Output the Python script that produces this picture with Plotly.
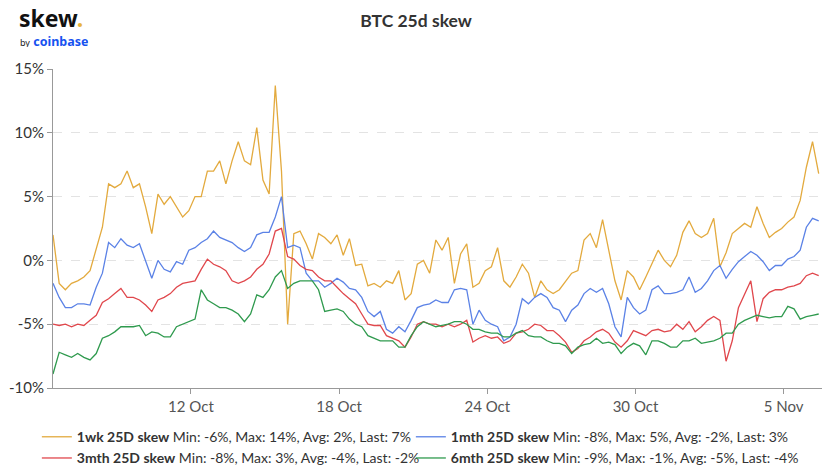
import pandas as pd
import plotly.graph_objects as go

start = "2021-10-06 10:00"
freq = "6h"

wk1 = [2.0, -1.8, -2.3, -1.8, -1.6, -1.3, -0.8, 1.0, 2.6, 6.0,
       5.7, 6.0, 7.0, 5.7, 6.0, 4.2, 2.1, 5.2, 4.4, 5.0,
       4.2, 3.4, 3.9, 5.0, 5.0, 7.0, 7.0, 7.8, 6.0, 7.8,
       9.3, 7.8, 7.5, 10.4, 6.3, 5.2, 13.7, 7.0, -5.0, 2.1,
       2.3, 1.3, 0.1, 2.1, 1.8, 1.3, 2.0, 0.4, 1.7, -0.4,
       -0.3, -2.0, -1.8, -2.1, -1.6, -1.8, -0.8, -3.1, -2.6, -0.3,
       0.0, -1.0, 1.6, 0.8, 1.8, -1.8, 0.5, 1.3, -2.1, -1.8,
       -0.8, -0.5, 1.0, -1.6, -2.1, -1.3, -0.3, -1.0, -2.9, -1.6,
       -2.3, -2.6, -2.3, -1.6, -1.0, -0.8, 1.6, 2.1, 1.0, 3.2,
       0.8, -1.6, -3.1, -0.8, -1.3, -2.3, -1.3, -0.3, 0.8, 0.0,
       -0.5, 0.4, 2.2, 3.1, 2.1, 1.8, 2.1, 3.3, -0.5, 0.6,
       2.1, 2.5, 2.9, 2.6, 4.2, 2.9, 1.8, 2.2, 2.5, 3.0,
       3.4, 4.7, 7.3, 9.3, 6.8]

mth1 = [-1.8, -2.9, -3.7, -3.7, -3.4, -3.4, -3.5, -2.1, -1.0, 1.4,
        1.0, 1.7, 1.2, 1.0, 1.3, 0.0, -1.4, 0.0, -0.7, -0.9,
        -0.1, -0.3, 0.8, 1.0, 1.4, 1.7, 2.3, 1.8, 1.6, 1.4,
        1.0, 0.7, 1.0, 2.0, 2.2, 2.2, 3.4, 5.0, 1.0, 1.2,
        1.0, -1.0, -1.6, -1.6, -2.1, -1.8, -1.4, -1.7, -2.2, -2.3,
        -2.9, -4.0, -4.4, -4.0, -5.4, -5.7, -5.2, -5.6, -4.7, -3.7,
        -3.5, -3.4, -3.1, -3.3, -3.3, -2.3, -2.2, -2.3, -5.0, -3.9,
        -4.7, -5.0, -5.2, -6.3, -6.0, -5.0, -3.0, -3.4, -2.9, -2.6,
        -2.9, -3.7, -3.9, -4.8, -3.9, -3.5, -2.6, -2.2, -2.5, -2.2,
        -3.4, -5.2, -6.0, -2.9, -3.7, -4.2, -3.9, -2.3, -2.0, -2.6,
        -2.6, -2.5, -2.3, -1.3, -2.5, -2.2, -1.6, -0.8, -0.4, -1.4,
        -0.7, -0.1, 0.3, 0.7, 0.4, -0.1, -0.8, -0.4, -0.4, 0.1,
        0.3, 0.8, 2.6, 3.3, 3.1]

mth3 = [-5.0, -5.1, -5.0, -5.2, -5.0, -5.1, -4.7, -4.3, -3.3, -3.0,
        -2.6, -2.2, -2.9, -2.9, -3.1, -3.5, -4.0, -3.1, -2.9, -2.6,
        -2.1, -1.8, -1.7, -1.6, -0.7, 0.1, -0.3, -0.5, -0.8, -1.6,
        -1.8, -1.6, -1.3, -0.7, -0.3, 0.5, 2.3, 2.5, 0.3, 0.1,
        -0.4, -0.7, -0.8, -1.3, -1.6, -1.6, -2.1, -2.6, -3.0, -3.4,
        -4.2, -5.0, -5.1, -5.1, -5.9, -6.1, -6.3, -6.8, -6.0, -5.0,
        -4.8, -5.0, -5.0, -5.2, -5.0, -5.2, -5.0, -4.7, -6.4, -6.1,
        -5.9, -6.1, -6.0, -6.5, -6.3, -5.7, -5.6, -5.4, -5.0, -5.1,
        -5.5, -5.5, -5.9, -6.4, -7.2, -6.9, -6.3, -6.0, -5.6, -5.4,
        -5.7, -6.4, -6.8, -6.3, -5.5, -5.7, -5.9, -5.5, -5.4, -5.6,
        -5.5, -5.0, -5.4, -4.8, -5.6, -5.2, -4.7, -4.4, -4.7, -7.9,
        -6.3, -3.7, -2.6, -1.6, -4.8, -3.0, -2.5, -2.3, -2.3, -2.1,
        -2.0, -1.8, -1.2, -1.0, -1.2]

mth6 = [-8.9, -7.2, -7.4, -7.6, -7.3, -7.6, -7.8, -7.3, -6.1, -5.9,
        -5.6, -5.2, -5.2, -5.2, -5.1, -5.9, -5.6, -5.7, -6.0, -6.0,
        -5.2, -5.0, -4.8, -4.6, -2.3, -3.1, -3.4, -3.7, -3.7, -3.9,
        -4.2, -4.8, -4.2, -2.7, -2.9, -2.3, -1.3, -0.8, -2.2, -1.8,
        -1.6, -1.6, -1.6, -2.3, -4.0, -3.9, -3.8, -4.0, -4.6, -5.0,
        -5.2, -5.9, -6.1, -6.3, -6.3, -6.3, -6.8, -6.8, -5.9, -5.2,
        -4.8, -5.0, -5.2, -5.1, -5.0, -4.8, -4.8, -5.0, -5.4, -5.4,
        -5.6, -5.7, -5.7, -6.0, -6.0, -5.7, -5.5, -5.9, -6.0, -6.0,
        -6.3, -6.5, -6.5, -6.7, -7.3, -6.8, -6.6, -6.5, -6.1, -6.5,
        -6.4, -6.6, -7.3, -6.8, -6.5, -6.7, -7.4, -6.3, -6.3, -6.5,
        -6.8, -6.8, -6.3, -6.3, -6.1, -6.5, -6.4, -6.3, -6.1, -5.7,
        -5.7, -5.0, -4.7, -4.5, -4.3, -4.4, -4.5, -4.4, -4.4, -3.6,
        -3.8, -4.6, -4.4, -4.3, -4.2]

series_names = ["1wk 25D skew", "1mth 25D skew", "3mth 25D skew", "6mth 25D skew"]
series_stats = ["Min: -6%, Max: 14%, Avg: 2%, Last: 7%",
                "Min: -8%, Max: 5%, Avg: -2%, Last: 3%",
                "Min: -8%, Max: 3%, Avg: -4%, Last: -2%",
                "Min: -9%, Max: -1%, Avg: -5%, Last: -4%"]
series_colors = ["#E3AA3E", "#5B82E6", "#E0474C", "#2F9A4E"]

tick_dates = ["2021-10-12", "2021-10-18", "2021-10-24", "2021-10-30", "2021-11-05"]
tick_labels = ["12 Oct", "18 Oct", "24 Oct", "30 Oct", "5 Nov"]
y_ticks = [-10, -5, 0, 5, 10, 15]
y_tick_labels = ["-10%", "-5%", "0%", "5%", "10%", "15%"]

dates = pd.date_range(start=start, periods=len(wk1), freq=freq)

fig = go.Figure()
for name, stats, color, vals in zip(series_names, series_stats, series_colors,
                                    [wk1, mth1, mth3, mth6]):
    fig.add_trace(go.Scatter(
        x=dates, y=vals, mode="lines",
        name=f"<b>{name}</b> {stats}",
        line=dict(color=color, width=1.3),
    ))

fig.update_layout(
    width=832, height=466,
    margin=dict(l=53, r=10, t=69, b=78, autoexpand=False),
    paper_bgcolor="white", plot_bgcolor="white",
    font=dict(family="Lato", color="#333"),
    title=dict(text="BTC 25d skew", x=0.5, xref="container", xanchor="center",
               y=1 - 21 / 466, yref="container", yanchor="middle",
               font=dict(family="Lato", size=17.5, color="#333", weight="bold")),
    showlegend=True,
    legend=dict(orientation="h", x=-0.021, xanchor="left", y=-0.104, yanchor="top",
                entrywidth=329, entrywidthmode="pixels",
                font=dict(family="Lato", size=14, color="#333"),
                itemwidth=30, bgcolor="rgba(0,0,0,0)"),
)

fig.update_xaxes(
    range=["2021-10-06 10:00", "2021-11-06 13:12"],
    tickvals=tick_dates, ticktext=tick_labels,
    showline=True, linecolor="#999", linewidth=1,
    ticks="outside", ticklen=5, tickcolor="#999",
    showgrid=False, zeroline=False,
    tickfont=dict(family="Lato", size=15, color="#555"),
)
fig.update_yaxes(
    range=[-10, 15], tickvals=y_ticks, ticktext=y_tick_labels,
    showline=True, linecolor="#999", linewidth=1,
    ticks="outside", ticklen=5, tickcolor="#999",
    showgrid=True, gridcolor="#e3e3e3", griddash="dash", gridwidth=1,
    zeroline=False,
    tickfont=dict(family="Lato", size=15, color="#333"),
)

# logo
fig.add_annotation(text="<b>skew</b><span style='color:#E8B43A'><b>.</b></span>",
                   xref="paper", yref="paper",
                   x=(17 - 53) / 769, y=(388 - 18.5) / 319,
                   xanchor="left", yanchor="middle", showarrow=False,
                   height=20, valign="middle",
                   font=dict(family="Noto Sans", size=23, color="#111"))
fig.add_annotation(text="<span style='font-size:9px;color:#222'>by</span> <b>coinbase</b>",
                   xref="paper", yref="paper",
                   x=(18 - 53) / 769, y=(388 - 42) / 319,
                   xanchor="left", yanchor="middle", showarrow=False,
                   height=11, valign="middle",
                   font=dict(family="Noto Sans", size=12.5, color="#1652F0"))

post = """
document.body.style.margin = '0';
document.querySelectorAll('.legend .scrollbox').forEach(function (g) {
  g.removeAttribute('clip-path');
  g.style.clipPath = 'none';
});
"""

fig.write_html("out.html", post_script=post, config={"displayModeBar": False})
